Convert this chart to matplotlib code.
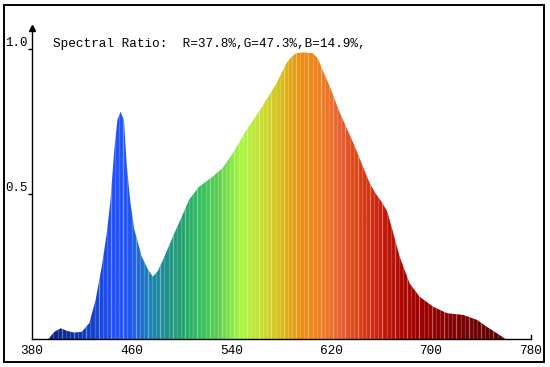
import numpy as np
import matplotlib
matplotlib.use("Agg")
import matplotlib.pyplot as plt
from matplotlib.colors import LinearSegmentedColormap
from matplotlib.patches import Rectangle

# ---- data ----
wavelength = [393, 398, 403, 408, 414, 420, 426, 431, 436, 440, 443, 446, 448.5,
              451, 453.8, 456, 459, 462, 468, 473, 477, 481, 485, 493, 500, 506,
              514, 525, 533, 541, 552, 563, 576, 584, 588, 592, 598, 605, 609,
              612, 619, 627, 638, 645, 651, 656, 661, 665, 670, 675, 683, 691,
              702, 713, 726, 737, 745, 753, 760]
intensity = [0.0, 0.025, 0.037, 0.028, 0.022, 0.025, 0.055, 0.134, 0.25, 0.365,
             0.48, 0.65, 0.755, 0.784, 0.755, 0.6, 0.47, 0.38, 0.285, 0.24,
             0.215, 0.235, 0.272, 0.353, 0.42, 0.48, 0.525, 0.56, 0.59, 0.64,
             0.72, 0.79, 0.88, 0.95, 0.972, 0.986, 0.988, 0.986, 0.97, 0.94,
             0.87, 0.78, 0.675, 0.6, 0.537, 0.5, 0.47, 0.44, 0.364, 0.284,
             0.192, 0.146, 0.111, 0.089, 0.083, 0.066, 0.042, 0.02, 0.0]
xticks = [380, 460, 540, 620, 700, 780]
yticks = [0.5, 1.0]
ytick_labels = ["0.5", "1.0"]
title_text = "Spectral Ratio:  R=37.8%,G=47.3%,B=14.9%,"

# ---- colour stops (wavelength -> colour) ----
stops_nm = [380, 405, 426, 445, 458, 474, 498, 514, 530, 547, 563, 579, 595,
            611, 627, 643, 659, 675, 691, 710, 735, 760, 780]
stops_c = ["#0a2090", "#0a2a90", "#1040c8", "#2050ff", "#2058f0", "#1a80b0",
           "#20a070", "#30c060", "#60d050", "#a8f840", "#c8e030", "#d8c020",
           "#ec9010", "#f08020", "#e86030", "#d84010", "#c82010", "#b00800",
           "#a00000", "#880000", "#700000", "#580000", "#500000"]
pos = [(v - 380) / 400 for v in stops_nm]
cmap = LinearSegmentedColormap.from_list("spec", list(zip(pos, stops_c)))

plt.rcParams['font.family'] = ['Liberation Mono', 'DejaVu Sans Mono']

fig = plt.figure(figsize=(5.5, 3.67), dpi=100)
W, H = 550, 367
x0, x1 = 32, 530.5
y0, ytop = 339, 28
ymax = (y0 - ytop) / 290.0
ax = fig.add_axes([x0 / W, (H - y0) / H, (x1 - x0) / W, (y0 - ytop) / H])
ax.set_xlim(380, 780)
ax.set_ylim(0, ymax)

poly = ax.fill_between(wavelength, intensity, 0, facecolor='none', edgecolor='none')
grad = np.linspace(0, 1, 800).reshape(1, -1)
im = ax.imshow(grad, cmap=cmap, extent=[380, 780, 0, ymax], aspect='auto',
               interpolation='bilinear', zorder=1)
clip_path = poly.get_paths()[0]
im.set_clip_path(clip_path, transform=ax.transData)

# light stripes across the fill
sx = np.arange(384, 780, 3.3)
alphas = np.where((np.arange(len(sx)) % 3) == 0, 0.38, 0.2)
for xv, a in zip(sx, alphas):
    ln = ax.plot([xv, xv], [0, ymax], color='white', lw=0.9, alpha=a, zorder=2)[0]
    ln.set_clip_path(clip_path, transform=ax.transData)

# axes styling
for s in ['top', 'right']:
    ax.spines[s].set_visible(False)
ax.spines['left'].set_linewidth(1.0)
ax.spines['bottom'].set_linewidth(1.0)
ax.spines['left'].set_zorder(5)
ax.spines['bottom'].set_zorder(5)
ax.set_xticks(xticks)
ax.set_xticklabels([str(v) for v in xticks], fontsize=9.2)
ax.tick_params(axis='x', length=0, pad=4)
ax.set_yticks(yticks)
ax.set_yticklabels(ytick_labels, fontsize=9.0)
ax.tick_params(axis='y', length=3, width=1, pad=0, direction='out')
for lab in ax.get_yticklabels():
    lab.set_va('bottom')

# arrow on y axis and end tick on x axis
ax.plot([380], [ymax], marker='^', color='black', markersize=4, clip_on=False, zorder=6)
ax.plot([780, 780], [0, 0.014], color='black', lw=1.0, clip_on=False, zorder=6)

# title text
fig.text(53 / W, 1 - 44 / H, title_text, fontsize=9.2, ha='left', va='center')

# outer border
fig.patches.append(Rectangle((4 / W, 1 - 361.5 / H), (543.5 - 4) / W, (361.5 - 4.5) / H,
                             transform=fig.transFigure, fill=False,
                             edgecolor='black', lw=1.4))

fig.savefig("out.png", dpi=100)
